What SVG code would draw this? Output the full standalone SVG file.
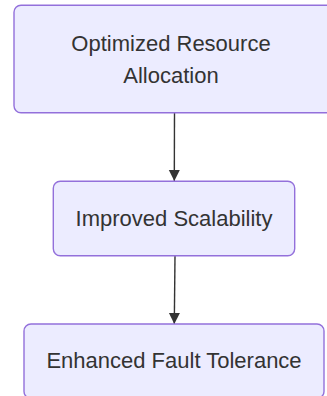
<svg xmlns="http://www.w3.org/2000/svg" width="327" height="396" viewBox="0 0 327 396">
<style>
.node rect{fill:#ECECFF;stroke:#9370DB;stroke-width:1.4}
.node text{font-family:"Liberation Sans",Arial,sans-serif;font-size:22px;fill:#333;text-anchor:middle}
.edge{stroke:#333;stroke-width:1.4;fill:none}
</style>
<defs>
<marker id="arrow" markerUnits="userSpaceOnUse" markerWidth="12" markerHeight="12" refX="11" refY="6" orient="auto">
<path d="M0,0.5 L11,6 L0,11.5 Z" fill="#333"/>
</marker>
</defs>
<g id="edges">
<path class="edge" d="M174.5,112.7 L174.3,181" marker-end="url(#arrow)"/>
<path class="edge" d="M175,255.7 L174.3,324" marker-end="url(#arrow)"/>
</g>
<g id="n1" class="node">
<rect x="14" y="5.3" width="320" height="107.4" rx="7" ry="7"/>
<text x="171" y="51">Optimized Resource</text>
<text x="171" y="83">Allocation</text>
</g>
<g id="n2" class="node">
<rect x="53.3" y="181.3" width="241.4" height="74.4" rx="7" ry="7"/>
<text x="174" y="226">Improved Scalability</text>
</g>
<g id="n3" class="node">
<rect x="24" y="324" width="300" height="74.4" rx="7" ry="7"/>
<text x="174" y="367.5">Enhanced Fault Tolerance</text>
</g>
</svg>
